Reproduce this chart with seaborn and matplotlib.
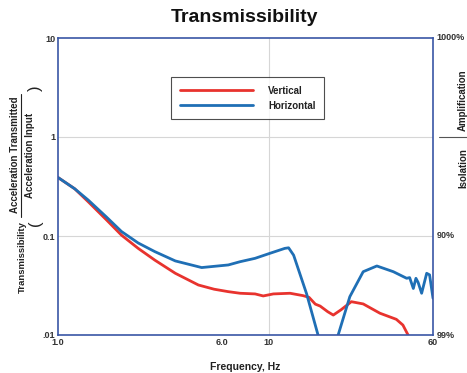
import numpy as np
import pandas as pd
import matplotlib
matplotlib.use("Agg")
import matplotlib.pyplot as plt
from matplotlib.ticker import FixedLocator, NullFormatter
import seaborn as sns

sns.set_theme(style="white")
plt.rcParams['font.family'] = ['Liberation Sans', 'DejaVu Sans']

# values
freq_v = [1.0, 1.2, 1.39, 1.7, 2.0, 2.4, 2.88, 3.6, 4.63, 5.5, 6.42, 7.3, 8.6, 9.4, 10.5,
          12.6, 14.5, 15.5, 16.6, 17.5, 19.0, 20.2, 22.0, 24.6, 28.0, 33.6, 40.2, 43.2, 45.7, 47.0]
vert = [0.39, 0.30, 0.222, 0.145, 0.102, 0.075, 0.057, 0.042, 0.032, 0.029, 0.0274, 0.0264, 0.026, 0.0248, 0.026,
        0.0264, 0.025, 0.024, 0.0205, 0.0196, 0.0172, 0.0159, 0.018, 0.0217, 0.0206, 0.0166, 0.0144, 0.0126, 0.01, 0.008]

freq_h = [1.0, 1.2, 1.39, 1.7, 2.0, 2.4, 2.88, 3.6, 4.8, 6.42, 7.3, 8.6, 10.1, 11.9, 12.4, 13.1,
          15.1, 17.1, 18.5, 20.0, 21.3, 24.2, 28.0, 32.5, 38.9, 45.0, 46.5, 48.4, 49.8, 51.0, 53.0,
          56.0, 57.8, 60.0]
horiz = [0.39, 0.30, 0.231, 0.155, 0.111, 0.085, 0.0695, 0.056, 0.048, 0.051, 0.055, 0.0595, 0.0668, 0.075, 0.076, 0.064,
         0.026, 0.01, 0.006, 0.006, 0.01, 0.0244, 0.0436, 0.0498, 0.0436, 0.0374, 0.038, 0.0295, 0.0374, 0.034, 0.0264,
         0.042, 0.0405, 0.0235]

x_ticks = [1, 6, 10, 60]
x_ticklabels = ['1.0', '6.0', '10', '60']
y_ticks = [0.01, 0.1, 1, 10]
y_ticklabels = ['.01', '0.1', '1', '10']
right_labels = ['99%', '90%', '1000%']
right_pos = [0.01, 0.1, 10]

red = '#e8332e'
blue = '#1f6fb5'
spine_col = '#3a56a5'

df_v = pd.DataFrame({'freq': freq_v, 'val': vert})
df_h = pd.DataFrame({'freq': freq_h, 'val': horiz})

fig = plt.figure(figsize=(4.67, 3.73), dpi=100)
ax = fig.add_axes([58 / 467, 38 / 373, 375 / 467, 297 / 373])

sns.lineplot(data=df_v, x='freq', y='val', ax=ax, color=red, linewidth=2, label='Vertical')
sns.lineplot(data=df_h, x='freq', y='val', ax=ax, color=blue, linewidth=2, label='Horizontal')

ax.set_xscale('log')
ax.set_yscale('log')
ax.set_xlim(1, 60)
ax.set_ylim(0.01, 10)

ax.xaxis.set_major_locator(FixedLocator(x_ticks))
ax.set_xticklabels(x_ticklabels)
ax.xaxis.set_minor_locator(FixedLocator([2, 4, 6, 7, 8, 9, 20, 30, 40, 50]))
ax.xaxis.set_minor_formatter(NullFormatter())
ax.yaxis.set_major_locator(FixedLocator(y_ticks))
ax.set_yticklabels(y_ticklabels)
ax.yaxis.set_minor_locator(FixedLocator([10 ** (k / 4) for k in range(-8, 4) if k % 4 != 0]))
ax.yaxis.set_minor_formatter(NullFormatter())

ax.tick_params(axis='both', which='both', direction='in', colors='#999999', labelcolor='#333333',
               labelsize=6.5, length=4, width=0.8, pad=2)
ax.tick_params(axis='x', which='major', length=0)
ax.tick_params(axis='y', which='major', length=0)
for lbl in ax.get_xticklabels() + ax.get_yticklabels():
    lbl.set_fontweight('bold')

for s in ax.spines.values():
    s.set_color(spine_col)
    s.set_linewidth(1.2)

# light grid lines
for yv in [0.1, 1]:
    ax.axhline(yv, color='#d6d6d6', lw=0.8, zorder=0)
ax.axvline(10, color='#d6d6d6', lw=0.8, zorder=0)

ax.set_xlabel('Frequency, Hz', fontsize=7.5, fontweight='bold', color='#222222', labelpad=11)
ax.set_ylabel('')

leg = ax.legend(loc='upper left', bbox_to_anchor=(0.301, 0.869), borderaxespad=0, frameon=True,
                fancybox=False, handlelength=7.5, fontsize=7, borderpad=0.9, labelspacing=0.5,
                handletextpad=1.6)
leg.get_frame().set_edgecolor('#222222')
leg.get_frame().set_linewidth(0.8)
for t in leg.get_texts():
    t.set_fontweight('bold')
    t.set_color('#222222')

# right-hand percentage labels
tr = ax.get_yaxis_transform()
for lab, pos in zip(right_labels, right_pos):
    ax.text(1.01, pos, lab, transform=tr, fontsize=6.5, fontweight='bold', color='#333333',
            va='center', ha='left')
ax.plot([1.016, 1.09], [1, 1], transform=tr, color='#555555', lw=0.8, clip_on=False)
fig.text(463 / 467, 1 - 100 / 373, 'Amplification', rotation=90, fontsize=7, fontweight='bold',
         color='#222222', ha='center', va='center')
fig.text(463 / 467, 1 - 168 / 373, 'Isolation', rotation=90, fontsize=7, fontweight='bold',
         color='#222222', ha='center', va='center')

# left composite label
fig.text(22 / 467, 1 - 257 / 373, 'Transmissibility', rotation=90, fontsize=6.8, fontweight='bold',
         color='#222222', ha='center', va='center')
fig.text(15 / 467, 1 - 155 / 373, 'Acceleration Transmitted', rotation=90, fontsize=7, fontweight='bold',
         color='#222222', ha='center', va='center')
fig.text(30 / 467, 1 - 155 / 373, 'Acceleration Input', rotation=90, fontsize=7, fontweight='bold',
         color='#222222', ha='center', va='center')
fig.add_artist(plt.Line2D([21 / 467, 21 / 467], [1 - 217 / 373, 1 - 94 / 373], color='#222222', lw=0.8))
fig.text(35 / 467, 1 - 223 / 373, '(', rotation=90, fontsize=12, color='#222222', ha='center', va='center')
fig.text(35 / 467, 1 - 88 / 373, ')', rotation=90, fontsize=12, color='#222222', ha='center', va='center')

fig.text(245 / 467, 1 - 17 / 373, 'Transmissibility', fontsize=14, fontweight='bold', color='#111111',
         ha='center', va='center')

fig.savefig('out.png', dpi=100)
